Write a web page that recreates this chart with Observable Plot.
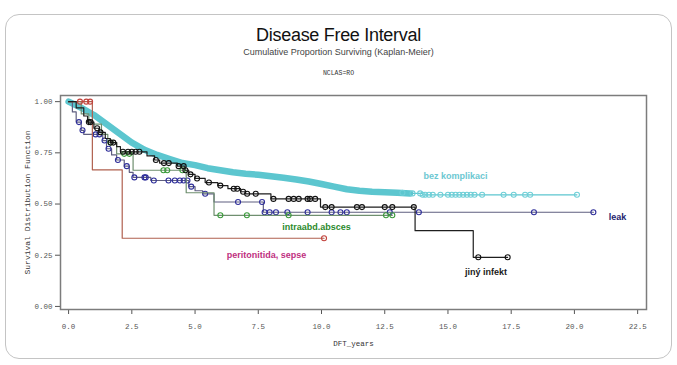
<!DOCTYPE html>
<html>
<head>
<meta charset="utf-8">
<script src="https://cdn.jsdelivr.net/npm/d3@7"></script>
<script src="https://cdn.jsdelivr.net/npm/@observablehq/plot@0.6"></script>
<style>
  html, body { margin: 0; padding: 0; background: #fff; }
  #wrap { position: relative; width: 677px; height: 365px; overflow: hidden; font-family: "Liberation Sans", Arial, sans-serif; }
  #border { position: absolute; left: 5px; top: 14px; width: 665px; height: 343px; border: 1px solid #c4c4c4; border-radius: 14px; }
  .ttl { position: absolute; left: 0; width: 677px; text-align: center; white-space: nowrap; }
  #title { top: 25px; font-size: 18px; letter-spacing: -0.3px; color: #111; }
  #subtitle { top: 47px; font-size: 9px; color: #444; }
  #nclas { top: 70px; font-size: 6.5px; color: #333; font-family: "Liberation Mono", monospace; }
  #plot { position: absolute; left: 0; top: 0; }
</style>
</head>
<body>
<div id="wrap">
  <div id="border"></div>
  <div id="plot"></div>
  <div class="ttl" id="title">Disease Free Interval</div>
  <div class="ttl" id="subtitle">Cumulative Proportion Surviving (Kaplan-Meier)</div>
  <div class="ttl" id="nclas">NCLAS=RO</div>
</div>
<script>
// ---- data ----
const groups = ["bez komplikaci", "leak", "intraabd.absces", "peritonitida, sepse", "jiný infekt"];

// bez komplikaci: dense KM curve (step times / survival after step)
const bezTimes = [0,0.5,1,1.5,2,2.5,3,3.5,4,4.5,5,5.5,6,6.5,7,7.5,8,8.5,9,9.5,10,10.5,11,11.5,12,12.5,13,13.5,14.0,20.1];
const bezSurv  = [1,0.97,0.935,0.89,0.845,0.80,0.765,0.74,0.72,0.70,0.69,0.675,0.665,0.655,0.648,0.643,0.636,0.628,0.62,0.61,0.598,0.585,0.572,0.565,0.56,0.557,0.555,0.552,0.545,0.545];
const bezBandEnd = 13.5;
const bezCensored = [13.2,13.6,13.9,14.0,14.1,14.25,14.4,14.7,15.0,15.15,15.3,15.45,15.6,15.75,15.9,16.05,16.35,17.2,17.6,18.05,18.25,20.1];

// leak
const leakTimes = [0,0.15,0.3,0.5,0.6,1.35,1.5,1.7,1.9,2.2,2.4,2.55,3.25,4.75,5.0,5.3,5.75,7.7,20.75];
const leakSurv  = [1,0.95,0.90,0.86,0.84,0.81,0.77,0.74,0.715,0.685,0.655,0.63,0.615,0.585,0.565,0.55,0.51,0.46,0.46];
const leakCensored = [0.41,0.55,1.07,1.22,1.42,1.58,1.95,2.3,2.6,3.0,3.05,3.37,3.95,4.2,4.4,4.55,4.7,4.85,5.4,6.7,7.65,7.75,7.95,8.2,8.65,9.45,10.4,10.75,11.0,12.7,13.85,18.4,20.75];

// intraabd.absces
const absTimes = [0,0.5,0.8,1.3,1.55,1.9,2.55,4.65,5.75,12.8];
const absSurv  = [1,0.94,0.89,0.84,0.80,0.745,0.665,0.555,0.445,0.445];
const absCensored = [1.66,2.2,2.4,3.75,3.9,4.5,6.0,7.05,8.7,12.55,12.8];

// peritonitida, sepse
const perTimes = [0,0.94,2.12,10.1];
const perSurv  = [1,0.667,0.333,0.333];
const perCensored = [0.45,0.7,0.85,10.1];

// jiný infekt
const infTimes = [0,0.3,0.6,0.75,1.0,1.2,1.45,1.65,1.9,2.05,3.1,3.4,3.6,4.3,4.6,4.75,5.0,5.4,5.9,6.3,6.8,7.0,8.0,9.96,13.7,16.0,17.36];
const infSurv  = [1,0.97,0.93,0.90,0.87,0.85,0.82,0.80,0.78,0.755,0.735,0.715,0.70,0.685,0.665,0.645,0.625,0.605,0.59,0.575,0.56,0.55,0.525,0.485,0.37,0.24,0.24];
const infCensored = [0.8,0.87,1.13,1.26,1.66,1.77,2.15,2.35,2.5,2.65,2.8,3.45,3.77,3.96,4.35,4.55,4.62,4.82,5.08,5.55,6.0,6.53,6.67,6.9,7.06,7.4,8.1,8.7,8.9,9.1,9.45,9.55,9.75,10.15,10.4,11.4,11.6,12.5,12.8,13.65,16.2,17.36];

// curve label anchors (data coordinates)
const labelX = [15.3, 21.7, 9.8, 7.83, 16.5];
const labelY = [0.634, 0.435, 0.387, 0.249, 0.167];

const xTicks = [0, 2.5, 5, 7.5, 10, 12.5, 15, 17.5, 20, 22.5];
const yTicks = [0, 0.25, 0.5, 0.75, 1];

// ---- styling ----
const lineColors = ["#5cc6cf", "#5f5f80", "#6f8f6f", "#b0604f", "#1e1e1e"];
const dotColors  = ["#6fcfd7", "#2e2e9a", "#3b9b3b", "#c2423c", "#111111"];
const labelColors = ["#6cc8d2", "#23236e", "#2b8a2b", "#c0307f", "#1a1a1a"];

const seriesDefs = [
  [bezTimes, bezSurv, bezCensored],
  [leakTimes, leakSurv, leakCensored],
  [absTimes, absSurv, absCensored],
  [perTimes, perSurv, perCensored],
  [infTimes, infSurv, infCensored]
];

const steps = [];
const cens = [];
seriesDefs.forEach(([T, S, C], gi) => {
  T.forEach((t, i) => steps.push({g: gi, t, s: S[i]}));
  C.forEach(t => {
    const i = Math.max(0, d3.bisectRight(T, t) - 1);
    cens.push({g: gi, t, s: S[i]});
  });
});
const band = bezTimes.map((t, i) => ({t, s: bezSurv[i]})).filter(d => d.t <= bezBandEnd);
const bezTail = steps.filter(d => d.g === 0 && d.t >= bezBandEnd);
const labels = groups.map((name, i) => ({name, x: labelX[i], y: labelY[i], g: i}));

const order = [1, 2, 3, 4]; // drawn after the cyan band
const marks = [
  Plot.frame({stroke: "#7c7c7c", strokeWidth: 1.5}),
  Plot.line(band, {x: "t", y: "s", stroke: lineColors[0], strokeWidth: 6.5, strokeLinecap: "round"}),
  Plot.line(bezTail, {x: "t", y: "s", curve: "step-after", stroke: lineColors[0], strokeWidth: 1.2}),
  Plot.dot(cens.filter(d => d.g === 0), {x: "t", y: "s", r: 2.5, stroke: dotColors[0], strokeWidth: 1.1})
];
for (const g of order) {
  marks.push(Plot.line(steps.filter(d => d.g === g), {x: "t", y: "s", curve: "step-after", stroke: lineColors[g], strokeWidth: 1.2}));
  marks.push(Plot.dot(cens.filter(d => d.g === g), {x: "t", y: "s", r: 2.5, stroke: dotColors[g], strokeWidth: 1.1}));
}
marks.push(Plot.text(labels, {x: "x", y: "y", text: "name", fill: d => labelColors[d.g], fontWeight: "bold", fontSize: 9, fontFamily: "Liberation Sans, Arial, sans-serif"}));
marks.push(Plot.text(["DFT_years"], {frameAnchor: "bottom", dy: 36, textAnchor: "middle", fill: "#333", fontSize: 7.5, fontFamily: "Liberation Mono, monospace"}));
marks.push(Plot.text(["Survival Distribution Function"], {frameAnchor: "left", dx: -33, textAnchor: "middle", rotate: -90, fill: "#333", fontSize: 8, fontFamily: "Liberation Mono, monospace"}));

const chart = Plot.plot({
  width: 677,
  height: 365,
  marginLeft: 60,
  marginRight: 31,
  marginTop: 95,
  marginBottom: 56,
  style: {background: "transparent", color: "#555", fontFamily: "Liberation Mono, monospace", fontSize: "7.5px"},
  x: {domain: [-0.32, 22.85], ticks: xTicks, tickFormat: d3.format(".1f"), tickSize: 5, tickPadding: 9, label: null},
  y: {domain: [-0.015, 1.03], ticks: yTicks, tickFormat: d3.format(".2f"), tickSize: 5, tickPadding: 3, label: null},
  marks
});
document.getElementById("plot").appendChild(chart);
</script>
</body>
</html>
